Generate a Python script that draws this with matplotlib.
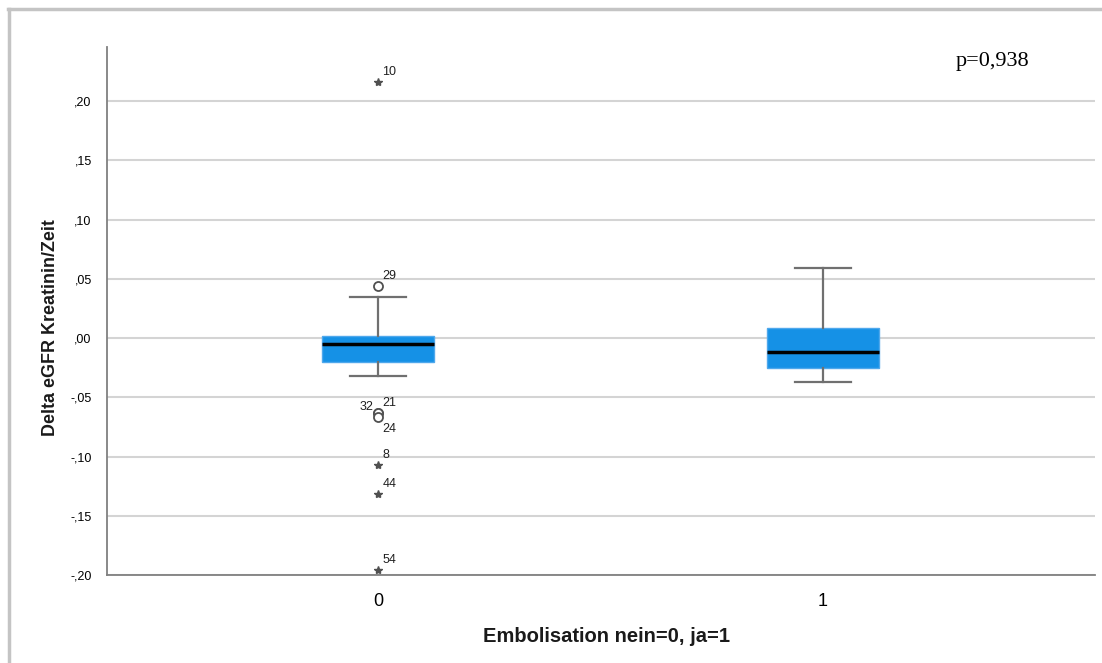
import matplotlib.pyplot as plt
from matplotlib.lines import Line2D

# Boxplot-Kennwerte je Gruppe (Embolisation nein=0, ja=1)
gruppen = [0, 1]
whisker_unten = [-0.032, -0.037]
q1 = [-0.0203, -0.0256]
median = [-0.0048, -0.0121]
q3 = [0.0017, 0.0087]
whisker_oben = [0.0349, 0.0593]

# Ausreisser (Kreis) und Extremwerte (Stern) der Gruppe 0
ausreisser_werte = [0.0439, -0.0630, -0.0632, -0.0668]
ausreisser_nr = ["29", "21", "32", "24"]
extrem_werte = [0.216, -0.107, -0.132, -0.196]
extrem_nr = ["10", "8", "44", "54"]

y_ticks = [-0.20, -0.15, -0.10, -0.05, 0.00, 0.05, 0.10, 0.15, 0.20]
y_tick_labels = ["-,20", "-,15", "-,10", "-,05", ",00", ",05", ",10", ",15", ",20"]

plt.rcParams['font.family'] = ['Liberation Sans', 'DejaVu Sans']

fig = plt.figure(figsize=(11.02, 6.63), dpi=100)
ax = fig.add_axes([0.0971, 0.1327, 0.8965, 0.7964])

stats = []
for i in range(len(gruppen)):
    stats.append({
        'whislo': whisker_unten[i], 'q1': q1[i], 'med': median[i],
        'q3': q3[i], 'whishi': whisker_oben[i], 'fliers': [],
    })

ax.bxp(stats, positions=gruppen, widths=0.25, patch_artist=True,
       showfliers=False,
       boxprops=dict(facecolor='#1591e6', edgecolor='#4fa8ec', linewidth=1),
       medianprops=dict(color='black', linewidth=2.5),
       whiskerprops=dict(color='#707070', linewidth=1.6),
       capprops=dict(color='#707070', linewidth=1.6),
       capwidths=0.125, zorder=3)

# Ausreisser als offene Kreise
ax.plot([0] * len(ausreisser_werte), ausreisser_werte, 'o', markersize=6.5,
        markerfacecolor='white', markeredgecolor='#505050',
        markeredgewidth=1.3, zorder=4)
# Extremwerte als Sterne
ax.plot([0] * len(extrem_werte), extrem_werte, '*', markersize=6,
        color='#505050', zorder=4)

offsets = {"32": (-3, 0, 'right', 'bottom'), "24": (3, -13, 'left', 'bottom')}
for wert, nr in zip(ausreisser_werte + extrem_werte, ausreisser_nr + extrem_nr):
    dx, dy, ha, va = offsets.get(nr, (3, 3, 'left', 'bottom'))
    ax.annotate(nr, (0, wert), xytext=(dx, dy), textcoords='offset points',
                ha=ha, va=va, fontsize=9, color='#202020')

ax.set_xlim(-0.609, 1.611)
ax.set_ylim(-0.20, 0.2456)
ax.set_xticks(gruppen)
ax.set_xticklabels([str(g) for g in gruppen], fontsize=13)
ax.set_yticks(y_ticks)
ax.set_yticklabels(y_tick_labels, fontsize=9)
ax.tick_params(axis='y', length=0, pad=11)
ax.tick_params(axis='x', length=0, pad=13)

ax.grid(axis='y', color='#d4d4d4', linewidth=1.5, zorder=0)
ax.set_axisbelow(True)
for s in ['top', 'right']:
    ax.spines[s].set_visible(False)
for s in ['left', 'bottom']:
    ax.spines[s].set_color('#808080')
    ax.spines[s].set_linewidth(1.3)

ax.set_xlabel('Embolisation nein=0, ja=1', fontsize=14.5, fontweight='bold',
              color='#1a1a1a')
ax.xaxis.set_label_coords(0.506, -0.098)
ax.set_ylabel('Delta eGFR Kreatinin/Zeit', fontsize=12.9, fontweight='bold',
              color='#1a1a1a')
ax.yaxis.set_label_coords(-0.0486, 0.468)

ax.text(0.934, 0.99, 'p=0,938', transform=ax.transAxes, fontsize=16,
        family=['Liberation Serif', 'DejaVu Serif'], ha='right', va='top')

# grauer Rahmen oben und links
fig.add_artist(Line2D([0.0082, 0.0082], [0, 0.987], color='#c4c4c4',
                      linewidth=2.5, transform=fig.transFigure))
fig.add_artist(Line2D([0.0073, 1.0], [0.987, 0.987], color='#c4c4c4',
                      linewidth=2.5, transform=fig.transFigure))

fig.savefig('out.png', dpi=100)
